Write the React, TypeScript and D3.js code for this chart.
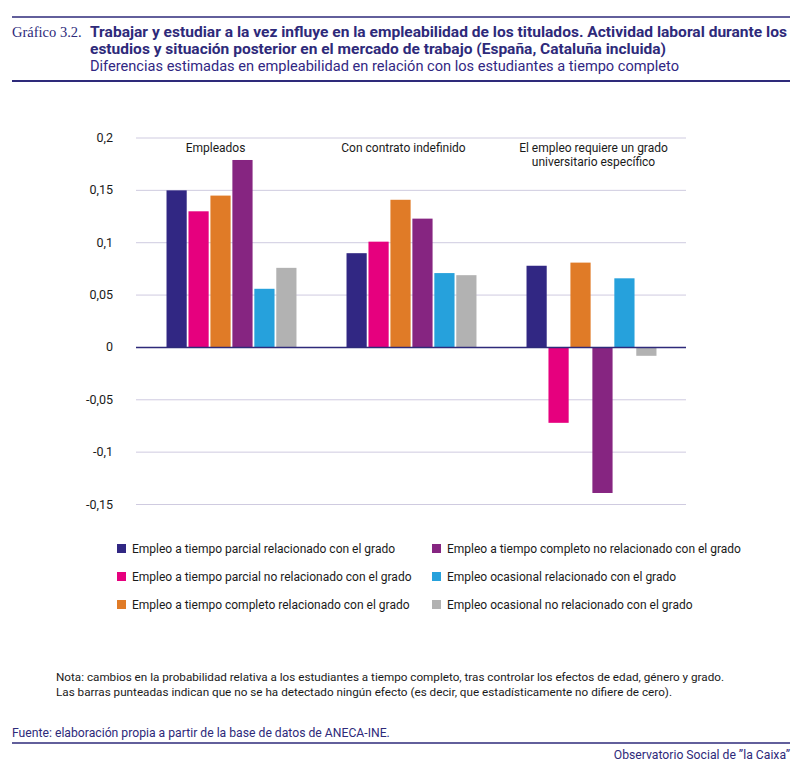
import {useEffect, useRef} from "react";
import * as d3 from "d3";

const groups = ["Empleados", "Con contrato indefinido", "El empleo requiere un grado universitario específico"];
const groupLabelLines = [["Empleados"], ["Con contrato indefinido"], ["El empleo requiere un grado", "universitario específico"]];
const groupLabelShift = [-16, -8, 2];

const seriesNames = [
    "Empleo a tiempo parcial relacionado con el grado",
    "Empleo a tiempo parcial no relacionado con el grado",
    "Empleo a tiempo completo relacionado con el grado",
    "Empleo a tiempo completo no relacionado con el grado",
    "Empleo ocasional relacionado con el grado",
    "Empleo ocasional no relacionado con el grado",
];
const seriesColors = ["#312783", "#e6007e", "#e07b27", "#862581", "#26a1dc", "#b2b2b2"];

// one array per group, in series order
const empleados = [0.15, 0.13, 0.145, 0.179, 0.056, 0.076];
const indefinido = [0.09, 0.101, 0.141, 0.123, 0.071, 0.069];
const gradoEspecifico = [0.078, -0.072, 0.081, -0.139, 0.066, -0.008];
const groupValues = [empleados, indefinido, gradoEspecifico];

const yTicks = [-0.15, -0.1, -0.05, 0, 0.05, 0.1, 0.15, 0.2];

const navy = "#2e2a7a";

const App = () => {
    const ref = useRef(null);

    useEffect(() => {
        document.body.style.margin = "0";
        const svg = d3.select(ref.current);
        svg.selectAll("*").remove();

        const x0 = d3.scaleBand().domain(groups).range([141.5, 681.5]).paddingInner(0.278).paddingOuter(0.139);
        const x1 = d3.scaleBand().domain(seriesNames).range([0, x0.bandwidth()]).paddingInner(0.08);
        const y = d3.scaleLinear().domain([-0.15, 0.2]).range([504.5, 138]);
        const fmt = (v: number) => String(+v.toFixed(2)).replace(".", ",");

        // header
        svg.append("line").attr("x1", 12).attr("x2", 790).attr("y1", 17).attr("y2", 17)
            .attr("stroke", navy).attr("stroke-width", 1.6);
        svg.append("line").attr("x1", 12).attr("x2", 790).attr("y1", 81).attr("y2", 81)
            .attr("stroke", navy).attr("stroke-width", 2);
        svg.append("text").attr("x", 12).attr("y", 37).attr("font-family", "Liberation Serif")
            .attr("font-size", 14.5).attr("fill", navy).text("Gráfico 3.2.");
        const title = [
            "Trabajar y estudiar a la vez influye en la empleabilidad de los titulados. Actividad laboral durante los",
            "estudios y situación posterior en el mercado de trabajo (España, Cataluña incluida)",
        ];
        title.forEach((t, i) => {
            svg.append("text").attr("x", 90).attr("y", 37 + i * 17).attr("font-family", "Roboto")
                .attr("font-weight", "bold").attr("font-size", 14).attr("fill", navy)
                .attr("textLength", i === 0 ? 697 : 576).attr("lengthAdjust", "spacingAndGlyphs").text(t);
        });
        svg.append("text").attr("x", 90).attr("y", 71).attr("font-family", "Roboto").attr("font-size", 14)
            .attr("fill", "#312783").attr("textLength", 589).attr("lengthAdjust", "spacingAndGlyphs")
            .text("Diferencias estimadas en empleabilidad en relación con los estudiantes a tiempo completo");

        // grid + y labels
        const g = svg.append("g").attr("font-family", "Roboto").attr("fill", "#1a1a1a");
        yTicks.forEach((t) => {
            if (t !== 0) {
                g.append("line").attr("x1", 136).attr("x2", 686).attr("y1", y(t)).attr("y2", y(t))
                    .attr("stroke", "#cfcbe0").attr("stroke-width", 1);
            }
            g.append("text").attr("x", 113).attr("y", y(t) + 4).attr("text-anchor", "end")
                .attr("font-size", 12.5).text(fmt(t));
        });

        // bars
        groups.forEach((grp, gi) => {
            const gg = g.append("g").attr("transform", `translate(${x0(grp)},0)`);
            gg.selectAll("rect").data(groupValues[gi]).enter().append("rect")
                .attr("x", (_d, i) => x1(seriesNames[i]) as number)
                .attr("width", x1.bandwidth())
                .attr("y", (d) => y(Math.max(0, d)))
                .attr("height", (d) => Math.abs(y(d) - y(0)))
                .attr("fill", (_d, i) => seriesColors[i]);

            const cx = (x0(grp) as number) + x0.bandwidth() / 2 + groupLabelShift[gi];
            groupLabelLines[gi].forEach((line, li) => {
                g.append("text").attr("x", cx).attr("y", 152 + li * 14).attr("text-anchor", "middle")
                    .attr("font-size", 12).text(line);
            });
        });

        g.append("line").attr("x1", 136).attr("x2", 686).attr("y1", y(0)).attr("y2", y(0))
            .attr("stroke", navy).attr("stroke-width", 1.5);

        // legend
        const legendCols = [117, 432];
        seriesNames.forEach((name, i) => {
            const col = Math.floor(i / 3);
            const row = i % 3;
            const lx = legendCols[col];
            const ly = 549 + row * 28;
            g.append("rect").attr("x", lx).attr("y", ly - 5).attr("width", 9).attr("height", 9)
                .attr("fill", seriesColors[i]);
            g.append("text").attr("x", lx + 15).attr("y", ly + 4).attr("font-size", 12).text(name);
        });

        // notes + footer
        const notes = [
            "Nota: cambios en la probabilidad relativa a los estudiantes a tiempo completo, tras controlar los efectos de edad, género y grado.",
            "Las barras punteadas indican que no se ha detectado ningún efecto (es decir, que estadísticamente no difiere de cero).",
        ];
        notes.forEach((n, i) => {
            g.append("text").attr("x", 56).attr("y", 681 + i * 14.5).attr("font-size", 11.5)
                .attr("textLength", i === 0 ? 668 : 616).attr("lengthAdjust", "spacingAndGlyphs").text(n);
        });
        svg.append("text").attr("x", 12).attr("y", 737).attr("font-family", "Roboto").attr("font-size", 12.2)
            .attr("fill", navy).text("Fuente: elaboración propia a partir de la base de datos de ANECA-INE.");
        svg.append("line").attr("x1", 12).attr("x2", 790).attr("y1", 743).attr("y2", 743)
            .attr("stroke", navy).attr("stroke-width", 1.6);
        svg.append("text").attr("x", 790).attr("y", 759).attr("text-anchor", "end").attr("font-family", "Roboto")
            .attr("font-size", 12.2).attr("fill", navy).text("Observatorio Social de \u201Dla Caixa\u201D");
    }, []);

    return (
        <div>
            <svg ref={ref} width={800} height={768} style={{display: "block"}}></svg>
        </div>
    );
};

export default App;
